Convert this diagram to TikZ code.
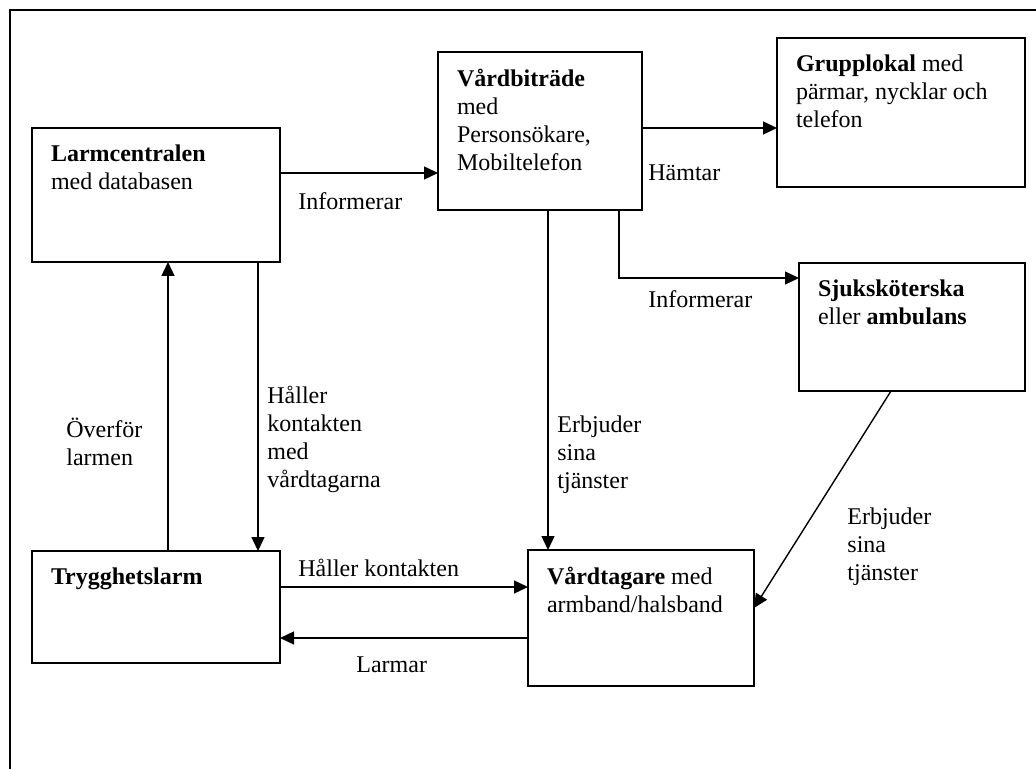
\documentclass[tikz,border=0pt]{standalone}
\usepackage{fontspec}
\setmainfont{Liberation Serif}
\usepackage{tikz}
\usetikzlibrary{calc,arrows.meta}
\tikzstyle{framebox}=[rectangle,draw=black,fill=white,line width=0.9pt,
                      inner xsep=9.5pt,inner ysep=8.5pt,outer sep=0pt,anchor=north west]
\tikzstyle{flow}=[draw=black,line width=0.7pt,-{Triangle[length=7pt,width=6.5pt]}]
\tikzstyle{flowtext}=[inner sep=0pt,anchor=base west,align=left]
\newcommand\boxtext[3]{\parbox[c][#2][t]{#1}{\raggedright #3}}

\begin{document}
\fontsize{12pt}{14pt}\selectfont
\begin{tikzpicture}[x=0.5pt,y=-0.5pt]
    \useasboundingbox (0,0) rectangle (1036,769);
    \draw[line width=0.8pt] (10,769) -- (10,10) -- (1036,10);

    % boxes
    \node [framebox] (larm) at (32,128) {
        \boxtext{105pt}{50pt}{\textbf{Larmcentralen}\\ med databasen}
    };
    \node [framebox] (vardbitrade) at (438,52) {
        \boxtext{83pt}{62pt}{\textbf{Vårdbiträde}\\ med\\ Personsökare,\\ Mobiltelefon}
    };
    \node [framebox] (grupp) at (777,38) {
        \boxtext{105pt}{57.5pt}{\textbf{Grupplokal} med\\ pärmar, nycklar och\\ telefon}
    };
    \node [framebox] (sjuk) at (799,263) {
        \boxtext{94pt}{47pt}{\textbf{Sjuksköterska}\\ eller \textbf{ambulans}}
    };
    \node [framebox] (trygg) at (32,551) {
        \boxtext{105pt}{39pt}{\textbf{Trygghetslarm}}
    };
    \node [framebox] (vardtagare) at (528,550) {
        \boxtext{94pt}{51pt}{\textbf{Vårdtagare} med\\ armband/halsband}
    };

    % connectors
    \draw [flow] ($(larm.north east)+(0,45)$) coordinate (c1) -- (c1 -| vardbitrade.west);
    \draw [flow] ($(vardbitrade.north east)+(0,76)$) coordinate (c2) -- (c2 -| grupp.west);
    \draw [flow] ($(vardbitrade.south east)+(-23,0)$) |- ($(sjuk.north west)+(0,15)$);
    \draw [flow] ($(vardbitrade.south west)+(110,0)$) coordinate (c4) -- (c4 |- vardtagare.north);
    \draw [flow] ($(larm.south east)+(-22,0)$) coordinate (c5) -- (c5 |- trygg.north);
    \draw [flow] ($(trygg.north west)+(136,0)$) coordinate (c6) -- (c6 |- larm.south);
    \draw [flow] ($(trygg.north east)+(0,36)$) coordinate (c7) -- (c7 -| vardtagare.west);
    \draw [flow] ($(vardtagare.north west)+(0,88)$) coordinate (c8) -- (c8 -| trygg.east);
    \draw [flow] ($(sjuk.south west)+(92,0)$) -- ($(vardtagare.north east)+(0,58)$);

    % connector texts (base = last line)
    \node [flowtext] (informerar1) at (298,210) {Informerar};
    \node [flowtext] (hamtar) at (648,181) {Hämtar};
    \node [flowtext] (informerar2) at (648,308) {Informerar};
    \node [flowtext] (erbjuder1) at (557,488) {Erbjuder\\ sina\\ tjänster};
    \node [flowtext] (haller1) at (267,487) {Håller\\ kontakten\\ med\\ vårdtagarna};
    \node [flowtext] (overfor) at (66,465) {Överför\\ larmen};
    \node [flowtext] (haller2) at (298,576) {Håller kontakten};
    \node [flowtext] (larmar) at (356,672) {Larmar};
    \node [flowtext] (erbjuder2) at (847,580) {Erbjuder\\ sina\\ tjänster};
\end{tikzpicture}
\end{document}
